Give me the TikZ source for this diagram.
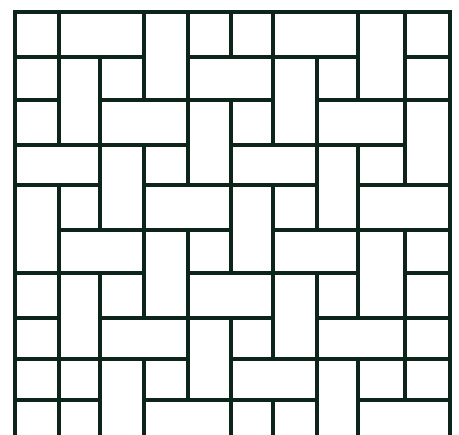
\documentclass[tikz,border=0pt]{standalone}
\usepackage{tikz}

\definecolor{tileline}{RGB}{12,36,26}

\begin{document}
\begin{tikzpicture}[x=1pt,y=-1pt,line width=3.6pt,
  tile/.style={draw=tileline,line join=miter}]
  \useasboundingbox (0,0) rectangle (459,435);
  \fill[white] (0,0) rectangle (459,435);
  \clip (0,0) rectangle (459,435);
  % grid lines of the (hand drawn) pavement
  \def\gx{{15,59,100,144,188,231,273,317,358,405,450}}
  \def\gy{{12,57,100,145,185,230,273,318,359,400,441}}
  % tiles: first column/row, last column/row + 1
  \foreach \ca/\ra/\cb/\rb in {
    0/0/1/1, 1/0/3/1, 3/0/4/2, 4/0/5/1, 5/0/6/1, 6/0/8/1, 8/0/9/2, 9/0/10/1,% row 0
    0/1/1/2, 1/1/2/3, 2/1/3/2, 4/1/6/2, 6/1/7/3, 7/1/8/2, 9/1/10/2,% row 1
    0/2/1/3, 2/2/4/3, 4/2/5/4, 5/2/6/3, 7/2/9/3, 9/2/10/4,% row 2
    0/3/2/4, 2/3/3/5, 3/3/4/4, 5/3/7/4, 7/3/8/5, 8/3/9/4,% row 3
    0/4/1/6, 1/4/2/5, 3/4/5/5, 5/4/6/6, 6/4/7/5, 8/4/10/5,% row 4
    1/5/3/6, 3/5/4/7, 4/5/5/6, 6/5/8/6, 8/5/9/7, 9/5/10/6,% row 5
    0/6/1/7, 1/6/2/8, 2/6/3/7, 4/6/6/7, 6/6/7/8, 7/6/8/7, 9/6/10/7,% row 6
    0/7/1/8, 2/7/4/8, 4/7/5/9, 5/7/6/8, 7/7/9/8, 9/7/10/8,% row 7
    0/8/1/9, 1/8/2/9, 2/8/3/10, 3/8/4/9, 5/8/7/9, 7/8/8/10, 8/8/9/9, 9/8/10/9,% row 8
    0/9/1/10, 1/9/2/10, 3/9/5/10, 5/9/6/10, 6/9/7/10, 8/9/10/10% row 9
  }{
    \pgfmathsetmacro\xa{\gx[\ca]}
    \pgfmathsetmacro\ya{\gy[\ra]}
    \pgfmathsetmacro\xb{\gx[\cb]}
    \pgfmathsetmacro\yb{\gy[\rb]}
    \draw[tile] (\xa,\ya) rectangle (\xb,\yb);
  }
\end{tikzpicture}
\end{document}
